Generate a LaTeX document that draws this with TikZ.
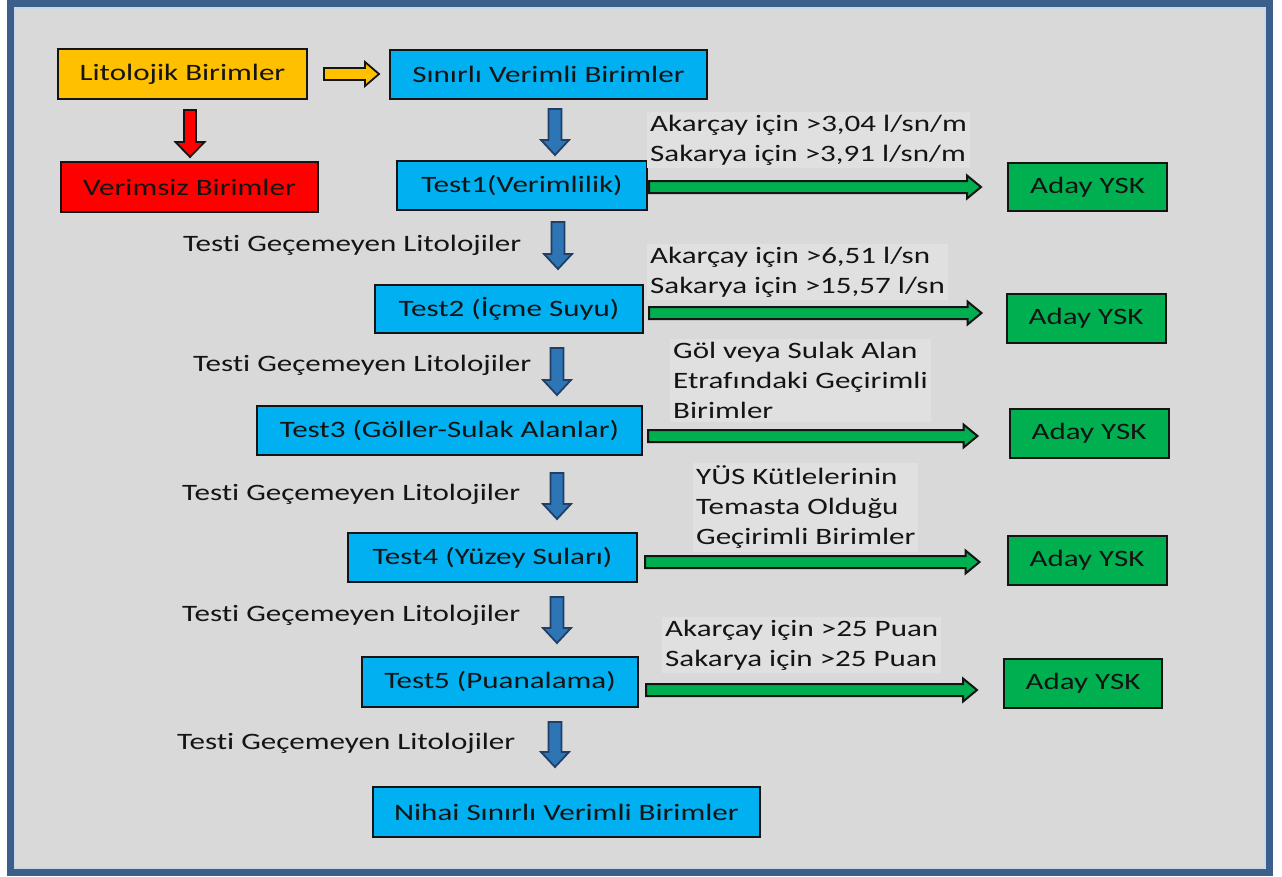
\documentclass[tikz,border=0pt]{standalone}
\usepackage{fontspec}
\setmainfont{Carlito}[FakeStretch=1.32, Ligatures=NoCommon]
\usetikzlibrary{calc}

\definecolor{pagebg}{HTML}{D9D9D9}
\definecolor{frameblue}{HTML}{3B5E8A}
\definecolor{frameedge}{HTML}{C9D6E6}
\definecolor{boxyellow}{HTML}{FFC000}
\definecolor{boxred}{HTML}{FF0000}
\definecolor{boxcyan}{HTML}{00B0F0}
\definecolor{boxgreen}{HTML}{00B050}
\definecolor{arrowblue}{HTML}{2E75B6}
\definecolor{arrowedge}{HTML}{1F3F66}
\definecolor{labelbg}{HTML}{E0E0E0}
\definecolor{ink}{HTML}{141414}

% Block arrow pointing right: style, tail, tip, shaft half-width, head half-width, head length
\newcommand{\hblock}[6]{%
  \filldraw[#1] let \p1=(#2), \p2=(#3) in
    (\x1,\y1+#4) -- (\x2-#6,\y1+#4) -- (\x2-#6,\y1+#5) -- (\x2,\y1)
    -- (\x2-#6,\y1-#5) -- (\x2-#6,\y1-#4) -- (\x1,\y1-#4) -- cycle;}
% Block arrow pointing down: style, tail, tip, shaft half-width, head half-width, head length
\newcommand{\vblock}[6]{%
  \filldraw[#1] let \p1=(#2), \p2=(#3) in
    (\x1-#4,\y1) -- (\x1-#4,\y2+#6) -- (\x1-#5,\y2+#6) -- (\x1,\y2)
    -- (\x1+#5,\y2+#6) -- (\x1+#4,\y2+#6) -- (\x1+#4,\y1) -- cycle;}

\tikzset{
  txt/.style={font=\fontsize{23.5}{30}\selectfont, text=ink},
  box/.style={txt, draw=ink, line width=2pt, inner sep=0pt, minimum height=49pt},
  litbox/.style={box, fill=boxyellow},
  nobox/.style={box, fill=boxred},
  testbox/.style={box, fill=boxcyan},
  ysk/.style={box, fill=boxgreen, minimum width=159pt},
  note/.style={txt, align=left, fill=labelbg, inner sep=3pt, anchor=west},
  fail/.style={txt, inner sep=0pt, anchor=west},
  downarrow/.style={fill=arrowblue, draw=arrowedge, line width=1.8pt, line join=miter},
  okarrow/.style={fill=boxgreen, draw=ink, line width=2pt, line join=miter},
  redarrow/.style={fill=boxred, draw=ink, line width=1.8pt, line join=miter},
  yelarrow/.style={fill=boxyellow, draw=ink, line width=1.8pt, line join=miter},
}

\begin{document}
\begin{tikzpicture}[x=1pt, y=-1pt]
\useasboundingbox (0,0) rectangle (1282,876);

% page and frame
\fill[white] (0,0) rectangle (1282,876);
\filldraw[fill=pagebg, draw=frameblue, line width=7pt] (10,3.5) rectangle (1269,872.5);
\draw[frameedge, line width=1.5pt] (14.3,7.8) rectangle (1264.7,868.2);

% stage boxes
\node[litbox, minimum width=249pt, minimum height=50pt] (lit) at (182.5,74) {Litolojik Birimler};
\node[nobox, minimum width=257pt, minimum height=50pt] (ver) at (189.5,187) {Verimsiz Birimler};
\node[testbox, minimum width=317pt] (sin) at (548.5,74.5) {Sınırlı Verimli Birimler};
\node[testbox, minimum width=250pt] (t1) at (522,185.5) {Test1(Verimlilik)};
\node[testbox, minimum width=268pt, minimum height=48pt] (t2) at (509,309) {Test2 (İçme Suyu)};
\node[testbox, minimum width=385pt] (t3) at (449.5,430.5) {Test3 (Göller-Sulak Alanlar)};
\node[testbox, minimum width=289pt] (t4) at (492.5,557.5) {Test4 (Yüzey Suları)};
\node[testbox, minimum width=276pt, minimum height=50pt] (t5) at (500,682) {Test5 (Puanalama)};
\node[testbox, minimum width=387pt, minimum height=50pt] (nih) at (566.5,812) {Nihai Sınırlı Verimli Birimler};

% candidate boxes
\node[ysk, minimum height=48pt] (a1) at (1087.5,187) {Aday YSK};
\node[ysk] (a2) at (1086,318.5) {Aday YSK};
\node[ysk] (a3) at (1089,433.5) {Aday YSK};
\node[ysk] (a4) at (1087,560.5) {Aday YSK};
\node[ysk, minimum width=158pt] (a5) at (1083,683.5) {Aday YSK};

% threshold notes
\node[note] (n1) at (647,140) {Akarçay için >3,04 l/sn/m\\Sakarya için >3,91 l/sn/m};
\node[note] (n2) at (647,272) {Akarçay için >6,51 l/sn\\Sakarya için >15,57 l/sn};
\node[note] (n3) at (670,380.5) {Göl veya Sulak Alan\\Etrafındaki Geçirimli\\Birimler};
\node[note] (n4) at (693,507.5) {YÜS Kütlelerinin\\Temasta Olduğu\\Geçirimli Birimler};
\node[note] (n5) at (662,645) {Akarçay için >25 Puan\\Sakarya için >25 Puan};

% labels beside the downward arrows
\node[fail] (f1) at (183,245) {Testi Geçemeyen Litolojiler};
\node[fail] (f2) at (193,365) {Testi Geçemeyen Litolojiler};
\node[fail] (f3) at (182,494) {Testi Geçemeyen Litolojiler};
\node[fail] (f4) at (182,615) {Testi Geçemeyen Litolojiler};
\node[fail] (f5) at (177,743) {Testi Geçemeyen Litolojiler};

% arrow end points
\coordinate (ya) at ([xshift=16pt]lit.east);
\coordinate (yb) at ([xshift=-10pt]sin.west);
\coordinate (ra) at (190,110);
\coordinate (rb) at (190,157);
\coordinate (d0a) at (555,109);  \coordinate (d0b) at (555,155);
\coordinate (d1a) at (558,222);  \coordinate (d1b) at (558,269);
\coordinate (d2a) at (557,348);  \coordinate (d2b) at (557,395);
\coordinate (d3a) at (557,473);  \coordinate (d3b) at (557,519);
\coordinate (d4a) at (557,597);  \coordinate (d4b) at (557,643);
\coordinate (d5a) at (555,722);  \coordinate (d5b) at (555,767);
\coordinate (g1a) at (649,187);  \coordinate (g1b) at ([xshift=-26pt]a1.west);
\coordinate (g2a) at (649,313);  \coordinate (g2b) at ([xshift=-24pt]a2.west);
\coordinate (g3a) at (648,436);  \coordinate (g3b) at ([xshift=-31pt]a3.west);
\coordinate (g4a) at (645,562);  \coordinate (g4b) at ([xshift=-27pt]a4.west);
\coordinate (g5a) at (646,690);  \coordinate (g5b) at ([xshift=-26pt]a5.west);

% block arrows
\hblock{yelarrow}{ya}{yb}{6pt}{12pt}{14pt}
\vblock{redarrow}{ra}{rb}{6pt}{14.5pt}{15pt}
\vblock{downarrow}{d0a}{d0b}{6.5pt}{14pt}{15pt}
\vblock{downarrow}{d1a}{d1b}{6.5pt}{14pt}{15pt}
\vblock{downarrow}{d2a}{d2b}{6.5pt}{14pt}{15pt}
\vblock{downarrow}{d3a}{d3b}{6.5pt}{14pt}{15pt}
\vblock{downarrow}{d4a}{d4b}{6.5pt}{14pt}{15pt}
\vblock{downarrow}{d5a}{d5b}{6.5pt}{14pt}{15pt}
\hblock{okarrow}{g1a}{g1b}{6pt}{11.5pt}{14pt}
\hblock{okarrow}{g2a}{g2b}{6pt}{11.5pt}{14pt}
\hblock{okarrow}{g3a}{g3b}{6pt}{11.5pt}{14pt}
\hblock{okarrow}{g4a}{g4b}{6pt}{11.5pt}{14pt}
\hblock{okarrow}{g5a}{g5b}{6pt}{11.5pt}{14pt}
\end{tikzpicture}
\end{document}
